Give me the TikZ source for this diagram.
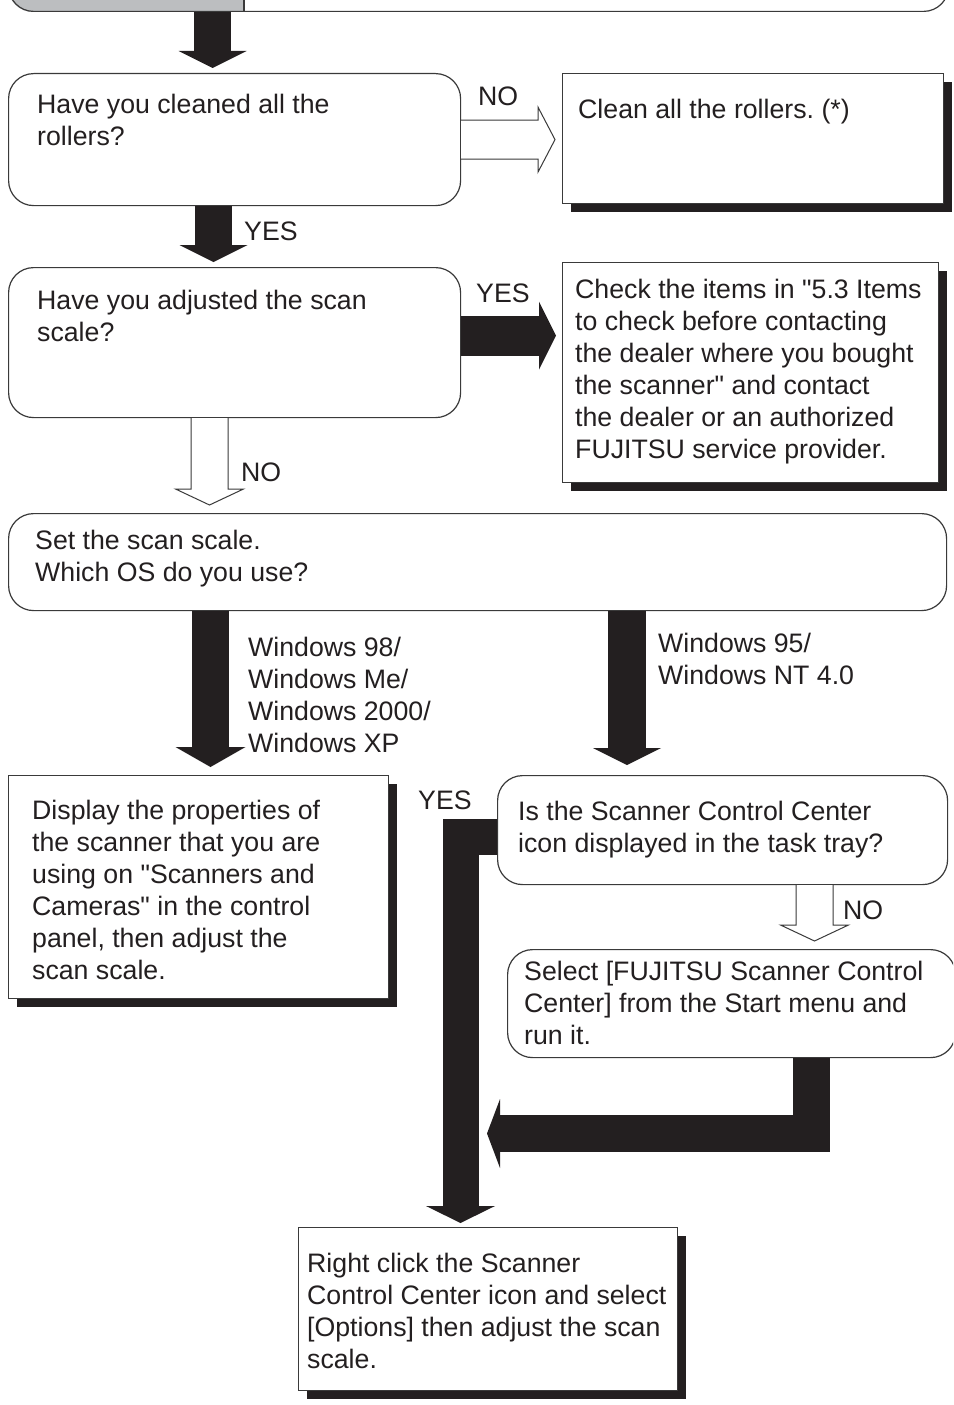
\documentclass[tikz,border=0pt]{standalone}
\usepackage{fontspec}
\newfontfamily\arial{Liberation Sans}
\usetikzlibrary{arrows.meta,calc,shadows}
\definecolor{ink}{HTML}{231F20}
\definecolor{edge}{HTML}{3A3A3A}
\definecolor{topgray}{HTML}{BCBEC0}
\frenchspacing
\tikzset{
  rbox/.style={draw=edge, line width=1.2pt, rounded corners=25pt, fill=white, inner sep=0pt, anchor=north west},
  sbox/.style={draw=edge, line width=1.2pt, fill=white, inner sep=0pt, anchor=north west,
    drop shadow={shadow xshift=8.5pt, shadow yshift=-8.5pt, fill=ink, opacity=1}},
  txt/.style={anchor=north west, inner sep=0pt, align=left, text=ink, font=\arial\fontsize{26.7}{32}\selectfont\frenchspacing},
  lbl/.style={anchor=base west, inner sep=0pt, text=ink, font=\arial\fontsize{26.7}{32}\selectfont},
  blk/.style={draw=ink, line width=37pt, -{Triangle[width=68pt,length=17pt,line width=0pt]}},
  hollow/.style={draw=edge, line width=1pt, fill=white, line join=miter},
}
\newcommand\hollowright[2]{%
  \filldraw[hollow] let \p1=(#1), \p2=(#2) in
    (\x1,{\y1+19.5pt}) -- ({\x2-24pt},{\y1+19.5pt}) -- ({\x2-24pt},{\y1+32.5pt})
    -- ({\x2-7pt},\y1) -- ({\x2-24pt},{\y1-32.5pt}) -- ({\x2-24pt},{\y1-19.5pt}) -- (\x1,{\y1-19.5pt});}
\newcommand\hollowdown[3]{%
  \filldraw[hollow] let \p3=(#1), \p1=(#2), \p2=(#3) in
    ({\x3-18.5pt},\y1) -- ({\x3-18.5pt},{\y2+24pt}) -- ({\x3-34pt},{\y2+24pt})
    -- (\x3,{\y2+8pt}) -- ({\x3+34pt},{\y2+24pt}) -- ({\x3+18.5pt},{\y2+24pt}) -- ({\x3+18.5pt},\y1);}
\begin{document}
\begin{tikzpicture}[x=1pt,y=-1pt]
\useasboundingbox (0,0) rectangle (953,1405);
\clip (0,0) rectangle (953,1405);
\fill[white] (0,0) rectangle (953,1405);

% top (cut) box
\begin{scope}
  \clip[rounded corners=25pt] (8,-60) rectangle (948,12);
  \fill[topgray] (8,-60) rectangle (244,12);
\end{scope}
\node[rbox, fill=none, anchor=south west, minimum width=940pt, minimum height=72pt] (top) at (8,12) {};
\draw[edge, line width=1.2pt] (244,-60) -- (244,12);

% boxes
\node[rbox, minimum width=452pt, minimum height=132pt] (q1) at (8,73) {};
\node[sbox, minimum width=381pt, minimum height=130pt] (clean) at (562,73) {};
\node[rbox, minimum width=452pt, minimum height=150pt] (q2) at (8,267) {};
\node[sbox, minimum width=376pt, minimum height=220pt] (check) at (562,262) {};
\node[rbox, minimum width=938pt, minimum height=97pt] (set) at (8,513) {};
\node[sbox, minimum width=380pt, minimum height=223pt] (disp) at (8,775) {};
\node[rbox, minimum width=450pt, minimum height=109pt] (q3) at (497,775) {};
\node[rbox, minimum width=448pt, minimum height=108pt] (sel) at (507,949) {};
\node[sbox, minimum width=379pt, minimum height=163pt] (rc) at (298,1227) {};

% arrow axes
\coordinate (xa) at (212.5,0);
\coordinate (xb) at (213.5,0);
\coordinate (xc) at (210.5,0);
\coordinate (xd) at (627,0);
\coordinate (xL) at (460.5,0);
\coordinate (xR) at (811,0);
\coordinate (xh2) at (209.5,0);
\coordinate (xh3) at (814.5,0);
\coordinate (jn) at (487,1133.5);

% black arrows
\draw[blk, shorten >=5pt] (top.south -| xa) -- (q1.north -| xa);
\draw[blk, shorten >=5pt] (q1.south -| xb) -- (q2.north -| xb);
\draw[blk, line width=40pt, shorten >=6pt] ([yshift=7pt]q2.east) coordinate (s3) -- (s3 -| check.west);
\draw[blk, shorten >=8pt, -{Triangle[width=70pt,length=20pt,line width=0pt]}] (set.south -| xc) -- (disp.north -| xc);
\draw[blk, line width=38pt, shorten >=10pt] (set.south -| xd) -- (q3.north -| xd);
\draw[blk, line width=36pt, -{Triangle[width=69pt,length=17pt,line width=0pt]}, shorten >=4pt] ([yshift=-6.5pt]q3.west) -| (rc.north -| xL);
\draw[blk, -{Triangle[width=69pt,length=13pt,line width=0pt]}] (sel.south -| xR) |- (jn);

% hollow arrows
\hollowright{q1.east}{clean.west}
\hollowdown{xh2}{q2.south}{set.north}
\hollowdown{xh3}{q3.south}{sel.north}

% texts
\node[txt] (tq1) at (37,90.6) {\strut Have you cleaned all the\\rollers?};
\node[txt] (tclean) at (578,95.6) {\strut Clean all the rollers. (*)};
\node[txt] (tq2) at (37,286.6) {\strut Have you adjusted the scan\\scale?};
\node[txt] (tcheck) at (575,275.6) {\strut Check the items in "5.3 Items\\to check before contacting\\the dealer where you bought\\the scanner" and contact\\the dealer or an authorized\\FUJITSU service provider.};
\node[txt] (tset) at (35,526.6) {\strut Set the scan scale.\\Which OS do you use?};
\node[txt] (t98) at (248,633.6) {\strut Windows 98/\\Windows Me/\\Windows 2000/\\Windows XP};
\node[txt] (t95) at (658,629.6) {\strut Windows 95/\\Windows NT 4.0};
\node[txt] (tdisp) at (32,796.6) {\strut Display the properties of\\the scanner that you are\\using on "Scanners and\\Cameras" in the control\\panel, then adjust the\\scan scale.};
\node[txt] (tq3) at (518,797.6) {\strut Is the Scanner Control Center\\icon displayed in the task tray?};
\node[txt] (tsel) at (524,957.6) {\strut Select [FUJITSU Scanner Control\\Center] from the Start menu and\\run it.};
\node[txt] (trc) at (307,1249.6) {\strut Right click the Scanner\\Control Center icon and select\\{[Options]} then adjust the scan\\scale.};

% labels
\node[lbl] (l1) at (478,105) {NO};
\node[lbl] (l2) at (244,240) {YES};
\node[lbl] (l3) at (476,302) {YES};
\node[lbl] (l4) at (241,481) {NO};
\node[lbl] (l5) at (418,809) {YES};
\node[lbl] (l6) at (843,919) {NO};
\end{tikzpicture}
\end{document}
